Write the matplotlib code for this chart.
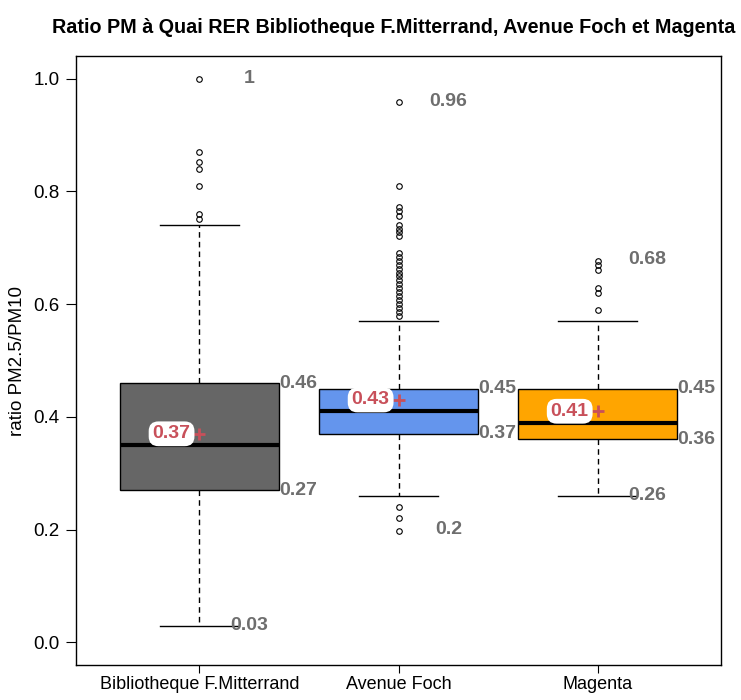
import matplotlib
matplotlib.use("Agg")
import matplotlib.pyplot as plt

plt.rcParams["font.family"] = ["Liberation Sans", "DejaVu Sans"]

# %% data
stations = ["Bibliotheque F.Mitterrand", "Avenue Foch", "Magenta"]
q1 = [0.27, 0.37, 0.36]
medians = [0.35, 0.41, 0.39]
q3 = [0.46, 0.45, 0.45]
whisk_lo = [0.03, 0.26, 0.26]
whisk_hi = [0.74, 0.57, 0.57]
means = [0.37, 0.43, 0.41]
data_min = [0.03, 0.2, 0.26]
data_max = [1.0, 0.96, 0.68]
outliers = [
    [1.0, 0.87, 0.852, 0.839, 0.81, 0.76, 0.751],
    [0.958, 0.81, 0.772, 0.765, 0.757, 0.741, 0.734, 0.727, 0.72,
     0.691, 0.684, 0.677, 0.670, 0.663, 0.656, 0.649, 0.642, 0.635,
     0.628, 0.621, 0.614, 0.607, 0.600, 0.593, 0.586, 0.579,
     0.24, 0.22, 0.198],
    [0.677, 0.669, 0.661, 0.628, 0.62, 0.59],
]
colors = ["#666666", "#6495ED", "#FFA500"]

label_grey = "#6e6e6e"
mean_red = "#c8505a"

# %%
fig = plt.figure(figsize=(7.41, 7.0), dpi=100)
ax = fig.add_axes([0.1026, 0.05, 0.8704, 0.87])

stats = []
for i, name in enumerate(stations):
    stats.append(dict(label=name, q1=q1[i], med=medians[i], q3=q3[i],
                      whislo=whisk_lo[i], whishi=whisk_hi[i],
                      fliers=outliers[i]))

pos = [1, 2, 3]
bp = ax.bxp(stats, positions=pos, widths=0.8, capwidths=0.4,
            patch_artist=True, showfliers=True,
            boxprops=dict(edgecolor="black", linewidth=1),
            medianprops=dict(color="black", linewidth=3, solid_capstyle="butt"),
            whiskerprops=dict(color="black", linewidth=1, linestyle=(0, (4, 3))),
            capprops=dict(color="black", linewidth=1),
            flierprops=dict(marker="o", markersize=4, markerfacecolor="none",
                            markeredgecolor="black", markeredgewidth=0.8))
for patch, c in zip(bp["boxes"], colors):
    patch.set_facecolor(c)

# mean markers and labels
ax.scatter(pos, means, marker="+", s=70, color=mean_red, linewidths=2, zorder=5)
for x, m in zip(pos, means):
    ax.text(x - 0.14, m, f"{m:g}", color=mean_red, fontsize=14, fontweight="bold",
            ha="center", va="center", zorder=6,
            bbox=dict(boxstyle="round,pad=0.2,rounding_size=0.5",
                      facecolor="white", edgecolor="none"))

# quartile, min and max labels
for x, a, b, lo, hi in zip(pos, q1, q3, data_min, data_max):
    ax.text(x + 0.4, b, f"{b:g}", color=label_grey, fontsize=14, fontweight="bold",
            ha="left", va="center")
    ax.text(x + 0.4, a, f"{a:g}", color=label_grey, fontsize=14, fontweight="bold",
            ha="left", va="center")
    ax.text(x + 0.25, hi, f"{hi:g}", color=label_grey, fontsize=14, fontweight="bold",
            ha="center", va="center")
    ax.text(x + 0.25, lo, f"{lo:g}", color=label_grey, fontsize=14, fontweight="bold",
            ha="center", va="center")

ax.set_xlim(0.38, 3.62)
ax.set_ylim(-0.04, 1.04)
ax.set_yticks([0.0, 0.2, 0.4, 0.6, 0.8, 1.0])
ax.set_yticklabels(["0.0", "0.2", "0.4", "0.6", "0.8", "1.0"])
ax.set_xticks(pos)
ax.set_xticklabels(stations)
ax.tick_params(axis="y", labelsize=13.5, length=7, width=0.8, color="black", pad=5)
ax.tick_params(axis="x", labelsize=13, length=6, width=0.8, color="black", pad=2)
ax.set_ylabel("ratio PM2.5/PM10", fontsize=13.5, labelpad=5)
for s in ax.spines.values():
    s.set_linewidth(1)

fig.text(0.531, 0.961,
         "Ratio PM à Quai RER Bibliotheque F.Mitterrand, Avenue Foch et Magenta",
         fontsize=14.2, fontweight="bold", ha="center", va="center")

fig.savefig("out.png", dpi=100)
